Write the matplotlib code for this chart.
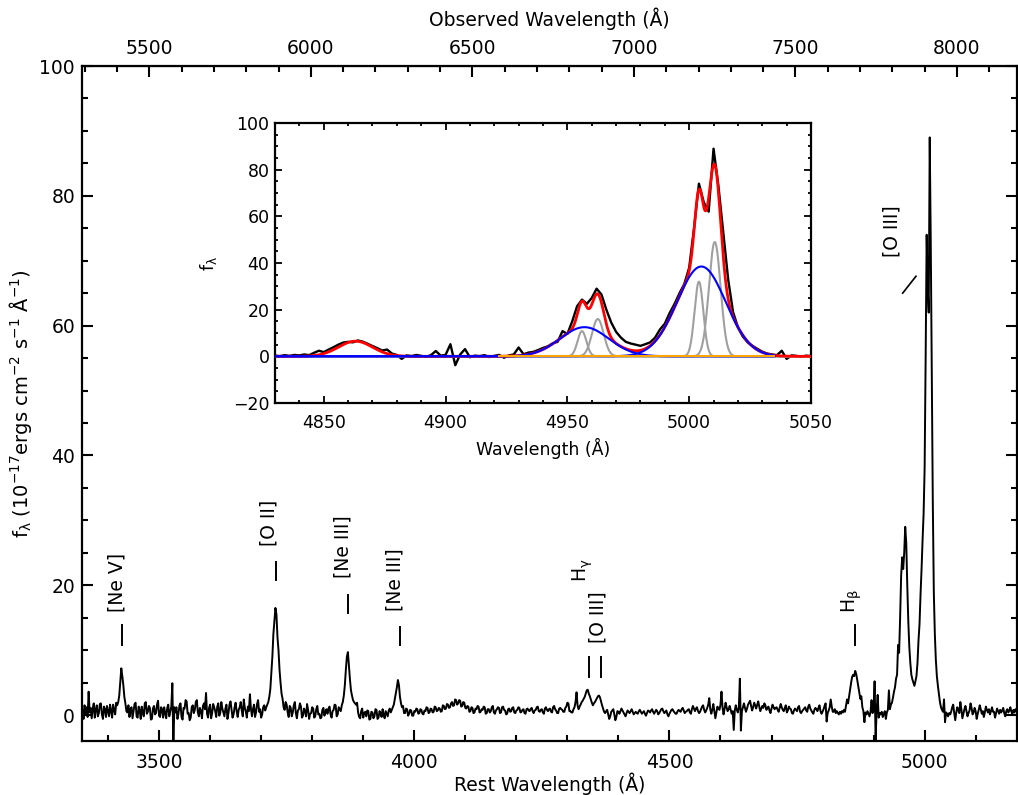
import numpy as np
import matplotlib.pyplot as plt
from matplotlib.ticker import MultipleLocator, FixedLocator

plt.rcParams['font.family'] = ['DejaVu Sans']
plt.rcParams['mathtext.default'] = 'regular'

z = 0.580

# main spectrum, 2 A steps, 3350-4828 A (rest)
wave_blue = np.arange(3350, 4829, 2)
flux_blue = [
    0.8, -0.6, 1.5, 0.2, 1.2, -0.3, 3.6, 0.4, 1.1, -0.5, 1.0, 1.8, -0.4, 0.9, 1.5, -0.2, 0.3, 1.7, 1.8, 0.1,
    -0.6, 1.3, 0.9, -0.3, 1.4, 0.6, -0.2, 1.6, 0.7, -0.4, 1.6, 0.8, 0.1, 1.9, 1.5, 2.0, 3.0, 5.0, 7.2, 6.0,
    4.6, 2.8, 1.8, 0.6, 0.4, 1.5, -0.3, 0.9, 1.2, -0.5, 0.6, 1.7, 1.9, -0.2, -0.4, 1.3, 0.8, -0.6, 1.3, 0.4,
    -0.2, 1.8, 2.0, 0.2, 0.5, 1.4, 1.1, -0.7, -0.6, 1.0, 1.4, 0.1, 0.3, 1.6, 2.2, -0.1, -0.3, 1.2, 0.9, -0.4,
    1.2, 0.3, -0.5, 1.1, 1.6, -0.2, 0.5, 1.3, 4.9, -4.6, 1.2, 0.4, 1.2, -0.6, 0.2, 1.5, 1.8, -0.3, -0.7, 1.1,
    1.0, 2.3, 2.1, 0.2, 0.3, -0.8, -0.4, 1.2, 1.5, 0.3, 0.8, 2.0, 2.3, 0.4, -0.2, 1.1, 0.6, -0.5, 1.4, 1.8,
    0.9, 3.4, 0.2, -0.4, 1.1, 1.6, -0.5, 0.3, 1.7, 1.2, 0.6, -0.3, 1.3, 1.8, -0.1, 0.4, 2.0, 1.0, 0.4, -0.2,
    1.0, 1.6, -0.6, 0.3, 1.6, 2.1, 0.9, -0.4, 0.1, 1.2, 1.9, 0.6, -0.3, 0.8, 1.2, 2.0, 0.7, -0.2, 2.4, 1.1,
    0.5, -0.4, 1.3, 0.6, 3.2, 1.0, -0.2, 0.9, 1.6, -0.3, 0.4, 1.7, 2.3, 0.5, 0.9, -0.4, 0.1, 1.2, 1.5, 0.7,
    1.2, 1.6, 2.0, 2.8, 4.0, 6.5, 9.0, 12.5, 14.5, 16.5, 15.5, 12.0, 10.0, 7.0, 5.0, 3.3, 2.5, 1.2, 0.8, 2.0,
    1.6, 0.4, -0.3, 1.4, 1.1, -0.2, 0.4, 1.5, 2.0, 0.3, -0.5, 0.7, 0.9, 1.8, 1.3, -0.4, -0.1, 1.0, 0.6, -0.2,
    1.7, 0.8, -0.6, 0.2, 0.3, 1.2, 1.0, -0.4, -0.2, 0.9, 1.4, 0.1, 0.2, -0.5, -0.4, 0.8, 1.1, -0.1, 0.5, 0.9,
    0.2, 1.0, 1.3, 0.1, -0.4, 0.6, 0.8, 1.6, 1.5, -0.2, 0.1, 1.2, 0.9, 0.6, 1.5, 2.0, 3.0, 4.6, 7.0, 9.0,
    9.7, 7.5, 5.5, 3.8, 3.0, 2.3, 2.0, 1.8, 1.6, 1.9, 0.4, -0.3, -0.5, 0.6, 1.0, -0.4, 0.3, 0.5, -0.2, 0.7,
    0.6, -0.7, -0.6, 0.5, 0.4, -0.5, -0.2, 0.9, 0.8, -0.6, -0.4, 0.6, 0.3, -0.3, 0.9, 0.1, -0.5, 0.6, 0.2, -0.2,
    0.7, 1.0, 0.4, 0.8, 1.2, 1.6, 2.5, 3.4, 4.3, 5.4, 4.6, 2.8, 1.8, 1.2, 1.4, 0.3, 0.3, 1.0, 0.9, -0.1,
    0.2, 0.8, 0.7, -0.1, -0.1, 0.6, 0.5, 1.0, 0.9, 0.2, 0.3, 0.9, 0.8, 0.2, 0.1, 0.7, 0.6, 1.2, 1.1, 0.3,
    0.4, 1.0, 0.9, 0.4, 0.5, 1.3, 1.2, 0.6, 0.7, 1.1, 1.0, 0.5, 0.6, 1.5, 1.4, 0.9, 1.0, 1.7, 1.6, 1.1,
    1.2, 1.8, 2.0, 1.4, 1.5, 2.4, 2.3, 1.6, 1.8, 2.3, 2.2, 1.3, 1.4, 2.0, 1.9, 1.1, 1.0, 1.4, 1.3, 0.5,
    0.6, 1.2, 1.1, 0.3, 0.4, 1.0, 0.9, 1.4, 1.3, 0.4, 0.5, 0.9, 0.8, 1.3, 1.2, 0.2, 0.3, 0.9, 0.9, 0.4,
    0.6, 1.2, 1.4, 0.4, 0.2, 0.7, 0.9, 1.2, 1.1, 0.3, 0.4, 1.2, 1.3, 0.8, 0.7, 0.1, 0.2, 0.9, 1.0, 0.5,
    0.6, 1.1, 1.2, 0.4, 0.3, 0.7, 0.8, 1.2, 1.1, 0.4, 0.5, 0.8, 0.9, 0.3, 0.2, 0.9, 1.0, 0.7, 0.6, 0.9,
    1.1, 0.6, 0.3, 0.7, 0.8, 1.2, 1.3, 0.6, 0.5, 0.8, 0.9, 0.4, 0.2, 1.0, 1.2, 0.8, 0.6, 0.9, 1.0, 0.5,
    0.4, 1.2, 1.4, 0.9, 0.7, 0.3, 0.3, 1.0, 1.1, 0.9, 0.8, 0.5, 0.5, 1.1, 1.3, 1.9, 1.8, 0.6, 0.6, 0.4,
    0.4, 0.9, 1.2, 2.0, 3.5, 1.5, 0.9, 1.3, 1.6, 2.0, 2.2, 2.5, 2.8, 3.3, 3.8, 3.9, 3.3, 2.9, 2.4, 1.9,
    1.5, 1.8, 2.0, 2.3, 2.6, 2.9, 3.0, 2.7, 2.1, 1.5, 1.0, 0.5, 0.3, 0.6, 0.8, 0.1, -0.6, -0.2, 0.5, 0.7,
    0.9, 0.1, -0.8, -0.3, 0.6, 0.5, 0.2, 0.6, 1.0, 0.7, 0.4, 0.1, -0.2, 0.3, 0.7, 0.5, 0.3, 0.6, 0.9, 0.5,
    0.1, 0.3, 0.5, 0.3, 0.2, 0.6, 0.8, 0.5, 0.2, 0.4, 0.6, 0.2, -0.1, 0.3, 0.7, 0.6, 0.4, 0.7, 0.9, 0.5,
    0.2, 0.5, 0.8, 0.6, 0.1, 0.3, 0.6, 0.9, 1.0, 0.6, 0.3, 0.5, 0.7, 0.1, -0.2, 0.2, 0.5, 0.8, 0.9, 0.6,
    0.4, 0.2, 0.2, 0.6, 0.8, 0.6, 0.5, 0.9, 1.1, 0.7, 0.3, 0.5, 0.6, 0.8, 0.9, 0.4, 0.2, 0.9, 1.4, 1.0,
    0.6, 1.0, 1.2, 0.6, 0.3, 0.5, 0.9, 1.3, 1.5, 0.8, 0.4, 0.7, 1.1, 1.6, 2.6, 0.9, 0.2, 0.8, 1.7, 0.6,
    -0.5, 0.4, 1.3, 1.0, 0.8, 1.6, 3.6, 1.2, 0.1, 0.9, 1.9, 1.2, 0.6, 0.9, 1.4, 0.8, 0.2, 0.6, -2.3, 0.7,
    1.5, 0.8, 0.4, 1.2, 5.6, -2.4, 0.6, 1.2, 1.8, 1.1, 0.5, 1.0, 1.6, 1.9, 2.2, 1.4, 0.7, 1.2, 1.9, 1.5,
    1.0, 1.6, 2.1, 1.3, 0.6, 1.0, 1.4, 1.1, 1.8, 1.5, 0.8, 1.1, 1.3, 0.7, 0.3, 1.0, 1.6, 1.2, 0.9, 1.1,
    1.2, 0.8, 0.5, 1.1, 1.7, 1.2, 0.8, 0.6, 1.1, 1.5, 0.4, 0.7, 1.3, 1.0, 0.9, 0.3, 0.2, 0.7, 1.0, 0.8,
    0.6, 1.2, 1.4, 0.5, 0.3, 0.6, 0.8, 1.0, 1.2, 0.7, 0.5, 1.3, 1.6, 1.0, 0.7, 0.4, 0.2, 0.8, 1.1, 0.9,
    0.6, 1.1, 1.5, 0.6, 0.2, 0.5, 0.9, 1.4, 1.8, -1.0, 0.3, 0.7, 1.2, 2.4, 1.3, 0.5, 0.5, 0.9, 0.3, 0.6,
]

# H-beta / [O III] region, 2 A steps, 4830-5050 A (also shown in the inset)
wave_oiii = np.arange(4830, 5051, 2)
flux_oiii = [
    0.3, 0.1, 0.5, 0.2, 0.6, 0.4, 0.8, 0.5, 1.5, 2.4,
    1.8, 2.9, 3.9, 5.0, 5.9, 6.2, 6.0, 6.8, 6.3, 5.4,
    4.4, 3.5, 2.5, 2.9, 1.2, 0.6, -1.1, 0.4, 0.1, 0.6,
    0.2, -0.2, 0.5, 2.3, 0.3, 0.6, 5.2, -3.8, 0.8, 3.1,
    -0.4, 0.3, 0.1, 0.5, -0.3, 0.2, 0.6, -0.6, 0.4, 0.8,
    3.8, 0.9, 1.6, 1.9, 2.7, 3.6, 4.3, 5.6, 6.2, 10.8,
    9.6, 15.0, 21.5, 24.3, 22.5, 25.0, 29.0, 26.5, 20.0, 14.5,
    10.5, 8.0, 6.2, 5.5, 5.0, 4.5, 5.2, 6.0, 8.0, 11.5,
    14.0, 18.6, 22.5, 27.0, 31.0, 38.0, 55.0, 74.0, 66.0, 62.0,
    89.0, 73.0, 53.0, 33.0, 19.0, 12.5, 8.5, 6.0, 4.5, 3.2,
    2.0, 1.2, 0.8, 0.5, 2.4, -1.1, 0.4, 0.2, -0.2, 0.3,
    0.1,
]

# red end, 2 A steps, 5052-5182 A
wave_red = np.arange(5052, 5183, 2)
flux_red = [
    0.5, 1.2, 1.6, 0.3, -0.8, 0.4, 1.2, 0.8, 0.3, 2.0,
    0.9, -0.5, 0.2, 0.9, 1.4, 0.6, -0.2, 0.3, 0.7, 1.8,
    1.1, 0.1, 0.4, 1.1, 0.6, -0.6, 0.2, 0.8, 1.5, 0.9,
    0.2, 0.6, -0.3, 0.4, 1.3, 0.8, 0.4, 0.9, 0.1, 0.6,
    1.2, 0.5, 0.5, -0.4, 0.3, 1.0, 0.6, 0.2, 0.8, 0.4,
    0.7, 1.1, 0.3, -0.2, 0.6, 0.9, 0.4, 0.7, 1.2, 0.5,
    0.2, 0.8, 0.4, 0.9, 0.6, 0.3,
]

# Gaussian fit components: (centre, peak, sigma)
hbeta_comp = [(4863.0, 6.5, 7.0)]
narrow_comps = [(4956.0, 10.8, 1.8), (4962.5, 16.0, 2.4), (5004.0, 32.0, 1.8), (5010.5, 49.0, 2.4)]
broad_comps = [(4957.0, 12.5, 10.0), (5005.0, 38.5, 10.0)]

# line labels: text, label x, label y, mark x list, mark y range
line_ids = [
    ('[Ne V]', 3418, 20.5, [3428], (10.8, 13.9)),
    ('[O II]', 3715, 29.6, [3729], (20.8, 23.6)),
    ('[Ne III]', 3860, 25.9, [3870], (15.7, 18.5)),
    ('[Ne III]', 3962, 20.8, [3972], (10.8, 13.6)),
    ('[O III]', 4360, 15.1, [4342, 4365], (5.9, 8.9)),
    ('H$_\\gamma$', 4330, 22.3, [], None),
    ('H$_\\beta$', 4857, 17.6, [4863], (10.8, 13.9)),
    ('[O III]', 4937, 74.6, [], None),
]

wave = np.concatenate([wave_blue, wave_oiii, wave_red])
flux = np.concatenate([flux_blue, flux_oiii, flux_red])

fig = plt.figure(figsize=(10.18, 7.95), dpi=100)
ax = fig.add_axes([82 / 1018, 54 / 795, 935 / 1018, 675 / 795])
ax.plot(wave, flux, color='k', lw=1.4)
ax.set_xlim(3349, 5181)
ax.set_ylim(-4.0, 100)
ax.set_xlabel('Rest Wavelength (Å)', fontsize=13.5, labelpad=0)
ax.set_ylabel('f$_\\lambda$ (10$^{-17}$ergs cm$^{-2}$ s$^{-1}$ Å$^{-1}$)', fontsize=14, labelpad=4)
ax.xaxis.set_major_locator(MultipleLocator(500))
ax.xaxis.set_minor_locator(MultipleLocator(100))
ax.yaxis.set_major_locator(MultipleLocator(20))
ax.yaxis.set_minor_locator(MultipleLocator(5))
ax.tick_params(which='both', direction='in', right=True, top=False, width=1.5, labelsize=13.5)
ax.tick_params(which='major', length=8)
ax.tick_params(which='minor', length=4.5)
ax.tick_params(axis='x', which='major', pad=9)
ax.tick_params(axis='y', which='major', pad=5)
for s in ax.spines.values():
    s.set_linewidth(1.6)

top = ax.secondary_xaxis('top', functions=(lambda x: x * (1 + z), lambda x: x / (1 + z)))
top.xaxis.set_major_locator(FixedLocator([5500, 6000, 6500, 7000, 7500, 8000]))
top.xaxis.set_minor_locator(MultipleLocator(100))
top.tick_params(which='both', direction='in', width=1.5, labelsize=13.5)
top.tick_params(which='major', length=8, pad=6)
top.tick_params(which='minor', length=4.5)
top.set_xlabel('Observed Wavelength (Å)', fontsize=13.5, labelpad=9)

for text, tx, ty, mx, my in line_ids:
    ax.text(tx, ty, text, rotation=90, ha='center', va='center', fontsize=13.5)
    for x in mx:
        ax.plot([x, x], my, color='k', lw=1.4)
ax.plot([4957, 4983], [65.0, 67.6], color='k', lw=1.2)

# inset with the fit
ins = fig.add_axes([275 / 1018, 392 / 795, 536 / 1018, 280 / 795])
lam = np.linspace(4830, 5050, 1101)


def gauss(comp):
    c, a, s = comp
    return a * np.exp(-0.5 * ((lam - c) / s) ** 2)


ins.plot(wave_oiii, flux_oiii, color='k', lw=1.7, zorder=2)
total = np.zeros_like(lam)
for comp in narrow_comps + broad_comps + hbeta_comp:
    total += gauss(comp)
for comp in narrow_comps:
    ins.plot(lam, gauss(comp), color='#a0a0a0', lw=1.5, zorder=3)
ins.plot(lam, total, color='#ff0000', lw=2.0, zorder=5)
blue_rng = lam <= 5035
for comp in broad_comps:
    ins.plot(lam[blue_rng], gauss(comp)[blue_rng], color='#0000ff', lw=1.5, zorder=6)
cont = (lam >= 4922) & (lam <= 5035)
ins.plot(lam[cont], np.zeros(cont.sum()), color='orange', lw=1.5, zorder=7)

ins.set_xlim(4830, 5050)
ins.set_ylim(-20, 100)
ins.xaxis.set_major_locator(MultipleLocator(50))
ins.xaxis.set_minor_locator(MultipleLocator(10))
ins.yaxis.set_major_locator(MultipleLocator(20))
ins.yaxis.set_minor_locator(MultipleLocator(5))
ins.tick_params(which='both', direction='in', top=True, right=True, width=1.3, labelsize=12.5)
ins.tick_params(which='major', length=5)
ins.tick_params(which='minor', length=2.5)
ins.tick_params(axis='x', which='major', pad=8)
ins.tick_params(axis='y', which='major', pad=4)
ins.set_xlabel('Wavelength (Å)', fontsize=12.5, labelpad=4)
ins.set_ylabel('f$_\\lambda$', fontsize=12.5, labelpad=10)
for s in ins.spines.values():
    s.set_linewidth(1.6)

fig.savefig('out.png', dpi=100)
